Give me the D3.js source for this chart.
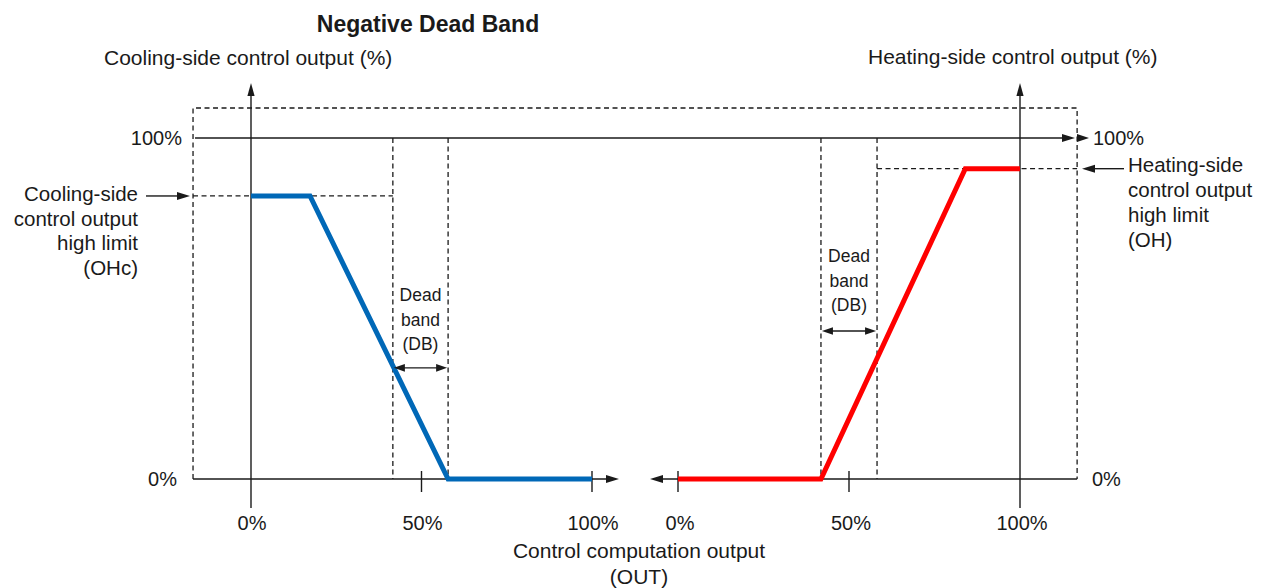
<!DOCTYPE html>
<html>
<head>
<meta charset="utf-8">
<script src="https://cdn.jsdelivr.net/npm/d3@7"></script>
<style>
  body { margin: 0; background: #fff; }
  svg text { font-family: "Liberation Sans", Arial, sans-serif; fill: #1a1a1a; }
</style>
</head>
<body>
<svg id="chart" width="1271" height="588"></svg>
<script>
// ---- data (percent values) ----
const coolX = [0, 17.3, 57.8, 100];
const coolY = [83, 83, 0, 0];
const heatX = [0, 41.8, 84, 100];
const heatY = [0, 0, 91, 91];
const coolDeadBand = [41.6, 57.8];
const heatDeadBand = [41.8, 58.2];
const coolHigh = 83;   // OHc
const heatHigh = 91;   // OH
const xTicks = [0, 50, 100];
const xTickLabels = ['0%', '50%', '100%'];
const yTickLabels = ['0%', '100%'];
const coolLimitLines = ['Cooling-side', 'control output', 'high limit', '(OHc)'];
const heatLimitLines = ['Heating-side', 'control output', 'high limit', '(OH)'];
const deadBandLines = ['Dead', 'band', '(DB)'];

const BLUE = '#0068b7', RED = '#ff0000', INK = '#1a1a1a';

const svg = d3.select('#chart');
const xc = d3.scaleLinear().domain([0, 100]).range([251, 592]);
const xh = d3.scaleLinear().domain([0, 100]).range([678, 1020]);
const y = d3.scaleLinear().domain([0, 100]).range([479, 138]);

// frame extents in data units
const fLeft = -17, fRight = 116.7, fTop = 108.8;

function line(x1, y1, x2, y2, opts) {
  opts = opts || {};
  return svg.append('line').attr('x1', x1).attr('y1', y1).attr('x2', x2).attr('y2', y2)
    .attr('stroke', opts.color || INK).attr('stroke-width', opts.w || 1.4)
    .attr('stroke-dasharray', opts.dash ? '5,3.5' : null);
}
// filled arrowhead, tip at (x,y), pointing in dir: 'r','l','u'
function head(x, y0, dir, len, half) {
  len = len || 13; half = half || 4;
  let p;
  if (dir === 'r') p = [[x, y0], [x - len, y0 - half], [x - len, y0 + half]];
  else if (dir === 'l') p = [[x, y0], [x + len, y0 - half], [x + len, y0 + half]];
  else p = [[x, y0], [x - half, y0 + len], [x + half, y0 + len]];
  svg.append('path').attr('d', 'M' + p.join('L') + 'Z').attr('fill', INK);
}
function text(x, y0, s, anchor, size, weight) {
  return svg.append('text').attr('x', x).attr('y', y0).attr('text-anchor', anchor || 'start')
    .attr('font-size', size || 20).attr('font-weight', weight || 'normal').text(s);
}

// ---- dashed frame ----
svg.append('path')
  .attr('d', `M${xc(fLeft)},${y(0)}V${y(fTop)}H${xh(fRight)}V${y(0)}`)
  .attr('fill', 'none').attr('stroke', INK).attr('stroke-width', 1.3).attr('stroke-dasharray', '5,3.5');

// dead band verticals
coolDeadBand.forEach(v => line(xc(v), y(100), xc(v), y(0), { dash: true, w: 1.3 }));
heatDeadBand.forEach(v => line(xh(v), y(100), xh(v), y(0), { dash: true, w: 1.3 }));

// high limit guides
line(xc(fLeft), y(coolHigh), xc(coolDeadBand[0]), y(coolHigh), { dash: true, w: 1.3 });
line(xh(heatDeadBand[1]), y(heatHigh), xh(fRight), y(heatHigh), { dash: true, w: 1.3 });

// ---- axes ----
// 100% line across both panels
line(xc(fLeft) + 2, y(100), 1062, y(100));
head(1075, y(100), 'r');
head(1089, y(100), 'r', 12);
// cooling 0% line
line(xc(fLeft), y(0), 606, y(0));
head(619, y(0), 'r');
// heating 0% line
line(663, y(0), xh(fRight), y(0));
head(650, y(0), 'l');
// y axes
line(xc(0), 508, xc(0), 95);
head(xc(0), 83, 'u', 13, 3.6);
line(xh(100), 508, xh(100), 95);
head(xh(100), 83, 'u', 13, 3.6);

// ticks
xTicks.filter(t => t > 0).forEach(t => line(xc(t), 471, xc(t), 492));
xTicks.filter(t => t < 100).forEach(t => line(xh(t), 471, xh(t), 492));

// tick labels
xTicks.forEach((t, i) => {
  text(xc(t) + 1, 530, xTickLabels[i], 'middle');
  text(xh(t) + 2, 530, xTickLabels[i], 'middle');
});
text(182, y(100) + 7, yTickLabels[1], 'end');
text(177, y(0) + 7, yTickLabels[0], 'end');
text(1093, y(100) + 7, yTickLabels[1], 'start');
text(1092, y(0) + 7, yTickLabels[0], 'start');

// ---- data lines ----
const coolPts = coolX.map((v, i) => [xc(v), y(coolY[i])]);
const heatPts = heatX.map((v, i) => [xh(v), y(heatY[i])]);
const lineGen = d3.line();
svg.append('path').attr('d', lineGen(coolPts)).attr('fill', 'none')
  .attr('stroke', BLUE).attr('stroke-width', 5).attr('stroke-linejoin', 'miter');
svg.append('path').attr('d', lineGen(heatPts)).attr('fill', 'none')
  .attr('stroke', RED).attr('stroke-width', 5).attr('stroke-linejoin', 'miter');

// ---- dead band arrows + labels ----
function dbArrow(xa, xb, yy) {
  line(xa + 10, yy, xb - 10, yy);
  head(xa + 1, yy, 'l', 11, 3.8);
  head(xb - 1, yy, 'r', 11, 3.8);
}
dbArrow(xc(coolDeadBand[0]), xc(coolDeadBand[1]), y(32.6));
dbArrow(xh(heatDeadBand[0]), xh(heatDeadBand[1]), y(43.4));
deadBandLines.forEach((s, i) => {
  text((xc(coolDeadBand[0]) + xc(coolDeadBand[1])) / 2, 301 + i * 24.5, s, 'middle', 17.5);
  text((xh(heatDeadBand[0]) + xh(heatDeadBand[1])) / 2, 262 + i * 24.5, s, 'middle', 17.5);
});

// ---- high limit callouts ----
line(146, y(coolHigh), 178, y(coolHigh));
head(190, y(coolHigh), 'r');
coolLimitLines.forEach((s, i) => text(138, 201 + i * 24.5, s, 'end', 20.5));
line(1094, y(heatHigh), 1124, y(heatHigh));
head(1082, y(heatHigh), 'l');
heatLimitLines.forEach((s, i) => text(1128, 172 + i * 25, s, 'start', 20.5));

// ---- titles ----
text(428, 32, 'Negative Dead Band', 'middle', 23, 'bold');
text(104, 65, 'Cooling-side control output (%)', 'start', 21);
text(868, 64, 'Heating-side control output (%)', 'start', 21);
text(639, 558, 'Control computation output', 'middle', 21);
text(639, 584, '(OUT)', 'middle', 21);
</script>
</body>
</html>
